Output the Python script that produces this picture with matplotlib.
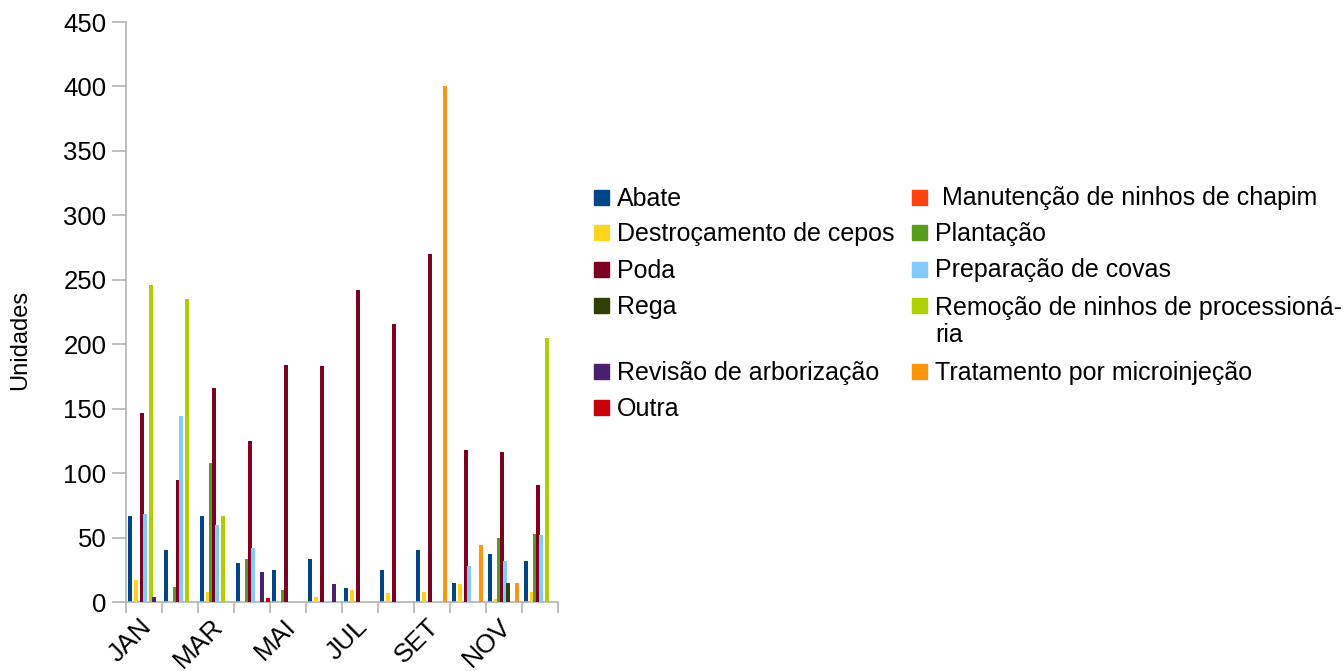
import matplotlib
matplotlib.use("Agg")
import matplotlib.pyplot as plt
import matplotlib.patches as mpatches
import matplotlib.transforms as mtransforms
import numpy as np

plt.rcParams["font.family"] = ["Liberation Sans", "DejaVu Sans"]

# ---------------------------------------------------------------------------
# Data (units per month, per type of intervention)
# ---------------------------------------------------------------------------
MONTHS = ["JAN", "FEV", "MAR", "ABR", "MAI", "JUN",
          "JUL", "AGO", "SET", "OUT", "NOV", "DEZ"]

SERIES = ["Abate", " Manutenção de ninhos de chapim", "Destroçamento de cepos",
          "Plantação", "Poda", "Preparação de covas", "Rega",
          "Remoção de ninhos de processioná-\nria", "Revisão de arborização",
          "Tratamento por microinjeção", "Outra"]

abate        = [67, 40, 67, 30, 25, 33, 11, 25, 40, 15, 37, 32]
manutencao   = [0, 0, 0, 0, 0, 0, 0, 0, 0, 0, 0, 0]
destrocament = [17, 0, 8, 0, 0, 4, 9, 7, 8, 14, 2, 8]
plantacao    = [0, 12, 108, 33, 9, 0, 0, 0, 0, 0, 50, 53]
poda         = [147, 95, 166, 125, 184, 183, 242, 216, 270, 118, 116, 91]
preparacao   = [68, 144, 60, 42, 0, 0, 0, 0, 0, 28, 32, 52]
rega         = [0, 0, 0, 0, 0, 0, 0, 0, 0, 0, 15, 0]
remocao      = [246, 235, 67, 0, 0, 0, 0, 0, 0, 0, 0, 205]
revisao      = [4, 0, 0, 23, 0, 14, 0, 0, 0, 0, 0, 0]
tratamento   = [0, 0, 0, 0, 0, 0, 0, 0, 400, 44, 15, 0]
outra        = [0, 0, 0, 3, 0, 0, 0, 0, 0, 0, 0, 0]

VALUES = [abate, manutencao, destrocament, plantacao, poda, preparacao,
          rega, remocao, revisao, tratamento, outra]

COLORS = ["#004586", "#ff420e", "#ffd320", "#579d1c", "#7e0021", "#83caff",
          "#314004", "#aecf00", "#4b1f6f", "#ff950e", "#c5000b"]

# ---------------------------------------------------------------------------
# Figure
# ---------------------------------------------------------------------------
W, H = 1343, 671
fig = plt.figure(figsize=(W / 100, H / 100), dpi=100)
ax = fig.add_axes([126 / W, 1 - 602 / H, (558 - 126) / W, (602 - 22) / H])

x = np.arange(len(MONTHS))
for i, (vals, col) in enumerate(zip(VALUES, COLORS)):
    ax.bar(x - 0.5 + (2 + 3 * i) / 36, vals, width=4 / 36, align="edge",
           color=col, linewidth=0, zorder=2 + i)

ax.set_xlim(-0.5, len(MONTHS) - 0.5)
ax.set_ylim(0, 450)
ax.set_yticks(np.arange(0, 451, 50))
ax.tick_params(axis="y", labelsize=18.5, length=10, width=1.2,
               color="#b3b3b3", pad=4)

ax.set_xticks(x[::2])
ax.set_xticklabels(MONTHS[::2], rotation=45, ha="right", va="top",
                   rotation_mode="anchor", fontsize=19)
ax.set_xticks(np.arange(-0.5, len(MONTHS)), minor=True)
ax.tick_params(axis="x", which="major", length=0, pad=9)
ax.tick_params(axis="x", which="minor", length=8, width=1.2, color="#b3b3b3")
shift = mtransforms.ScaledTranslation(-5 / 100, 0, fig.dpi_scale_trans)
for lbl in ax.get_xticklabels():
    lbl.set_transform(lbl.get_transform() + shift)

for s in ["top", "right"]:
    ax.spines[s].set_visible(False)
for s in ["left", "bottom"]:
    ax.spines[s].set_color("#b3b3b3")
    ax.spines[s].set_linewidth(1.2)

fig.text(20 / W, 1 - 340 / H, "Unidades", fontsize=17, rotation=90,
         ha="center", va="center")

# ---------------------------------------------------------------------------
# Legend drawn by hand so both columns keep the same row heights
# ---------------------------------------------------------------------------
leg_rows = [197, 233, 269, 305, 371, 407]
leg_cols = [(594, 617), (912, 935)]
for k, (label, col) in enumerate(zip(SERIES, COLORS)):
    row, c = divmod(k, 2)
    mx, tx = leg_cols[c]
    yc = leg_rows[row]
    fig.patches.append(mpatches.Rectangle(
        (mx / W, 1 - (yc + 7.5) / H), 15 / W, 15 / H,
        transform=fig.transFigure, color=col, figure=fig))
    if "\n" in label:
        yc += 15
    fig.text(tx / W, 1 - (yc + 1.5) / H, label, fontsize=18, va="center",
             ha="left", linespacing=1.2)

fig.savefig("out.png", dpi=100)
